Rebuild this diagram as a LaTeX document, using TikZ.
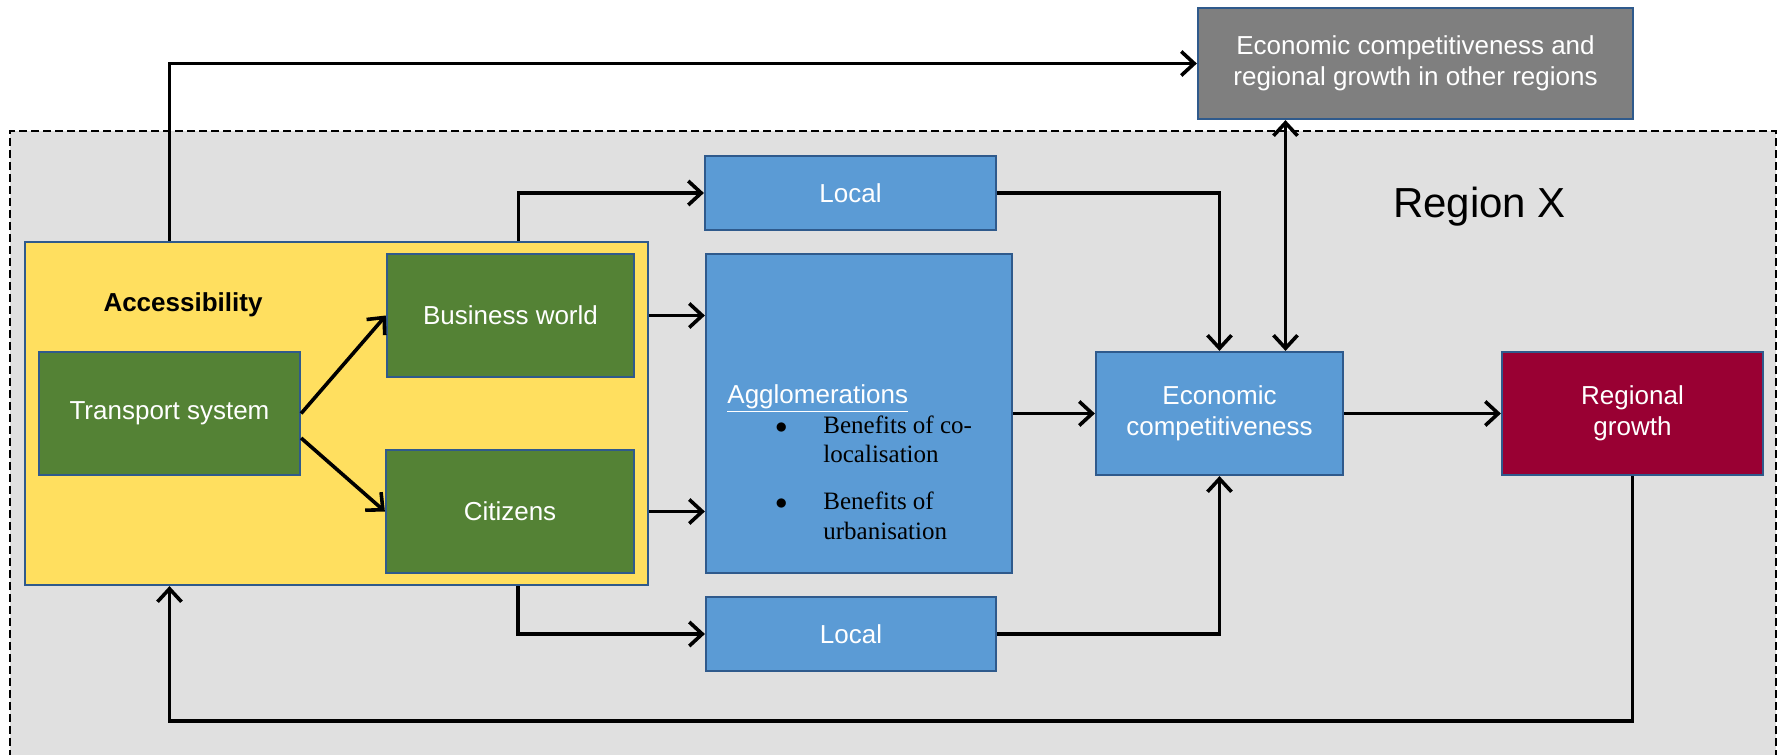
\documentclass[tikz,border=0pt]{standalone}
\usepackage{fontspec}
\setmainfont{Liberation Sans}
\newfontfamily\serifitems{Liberation Serif}
\usetikzlibrary{arrows.meta,positioning,calc}

\definecolor{boxborder}{HTML}{2F5A8C}
\definecolor{accyellow}{HTML}{FFDF5F}
\definecolor{tsgreen}{HTML}{548235}
\definecolor{aggblue}{HTML}{5B9BD5}
\definecolor{growthred}{HTML}{990033}
\definecolor{othergrey}{HTML}{7F7F7F}
\definecolor{regiongrey}{HTML}{E0E0E0}

\begin{document}
\begin{tikzpicture}[
    x=0.5pt, y=-0.5pt,
    box/.style={rectangle, draw=boxborder, line width=1.1pt, text=white, align=center, inner sep=2pt, font=\fontsize{13pt}{15.5pt}\selectfont},
    greenbox/.style={box, fill=tsgreen, minimum height=61.5pt},
    bluebox/.style={box, fill=aggblue},
    regionbox/.style={rectangle, draw=black, fill=regiongrey, line width=1pt, dash pattern=on 4pt off 2pt},
    connection/.style={-{Straight Barb[length=6.5pt,width=12pt]}, line width=1.8pt, black},
    twoway/.style={connection, {Straight Barb[length=6.5pt,width=12pt]}-{Straight Barb[length=6.5pt,width=12pt]}}
]
    \clip (0,0) rectangle (1778,755);

    \node[regionbox, minimum width=883pt, minimum height=324.5pt] (region) at (893,455.5) {};
    \node[anchor=base, font=\fontsize{21pt}{25pt}\selectfont] (regionlabel) at (1479.5,217) {Region X};

    \node[box, fill=othergrey, minimum width=217.5pt, minimum height=55.5pt] (others) at (1415.5,63.5) {Economic competitiveness and\\regional growth in other regions};

    \node[rectangle, draw=boxborder, line width=1.1pt, fill=accyellow, minimum width=311.5pt, minimum height=171.5pt] (access) at (336.5,413.5) {};
    \node[font=\fontsize{13pt}{15.5pt}\selectfont\bfseries] (acclabel) at (183,305) {Accessibility};

    \node[greenbox, minimum width=130.5pt] (transport) at (169.5,413.5) {Transport system};
    \node[greenbox, minimum width=123.5pt] (business) at (510.5,315.5) {Business world};
    \node[greenbox, minimum width=124pt] (citizens) at (510,511.5) {Citizens};

    \node[bluebox, minimum width=145.5pt, minimum height=37pt] (localtop) at (850.5,193) {Local};
    \node[bluebox, minimum width=153pt, minimum height=159.5pt] (agglo) at (859,413.5) {};
    \node[anchor=base west, inner sep=0, text=white, font=\fontsize{13pt}{15.5pt}\selectfont] (aggtitle) at (727,403) {\underline{Agglomerations}};
    \node[anchor=base west, inner sep=0, font=\serifitems\fontsize{12.5pt}{14.75pt}\selectfont] (aggitems) at (775,433) {\begin{tabular}[t]{@{}p{24pt}@{}l@{}}$\bullet$ & Benefits of co-\\ & localisation\\[8.75pt] $\bullet$ & Benefits of\\ & urbanisation\end{tabular}};
    \node[bluebox, minimum width=145pt, minimum height=37pt] (localbottom) at (851,634) {Local};

    \node[bluebox, minimum width=123.5pt, minimum height=61.5pt] (econ) at (1219.5,413.5) {Economic\\competitiveness};
    \node[box, fill=growthred, minimum width=130.5pt, minimum height=61.5pt] (growth) at (1632.5,413.5) {Regional\\growth};

    \draw[connection] (transport |- access.north) |- (others.west);
    \draw[connection] ([xshift=4pt]business.north |- access.north) |- (localtop.west);
    \draw[connection] (transport.east) -- (business.west);
    \draw[connection] ([yshift=-12.25pt]transport.east) -- (citizens.west);
    \draw[connection] (access.east |- business) -- (agglo.west |- business);
    \draw[connection] (access.east |- citizens) -- (agglo.west |- citizens);
    \draw[connection] ([xshift=4pt]citizens.south |- access.south) |- (localbottom.west);
    \draw[connection] (agglo.east) -- (econ.west);
    \draw[connection] (econ.east) -- (growth.west);
    \draw[connection] (localtop.east) -| (econ.north);
    \draw[connection] (localbottom.east) -| (econ.south);
    \draw[twoway] ([xshift=33pt]econ.north) -- ([xshift=33pt]econ.north |- others.south);
    \draw[connection] (growth.south) -- ++(0,245) -| (transport |- access.south);
\end{tikzpicture}
\end{document}
